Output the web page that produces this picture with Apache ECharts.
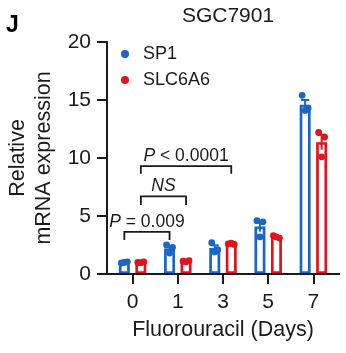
<!DOCTYPE html>
<html>
<head>
<meta charset="utf-8">
<script src="https://cdn.jsdelivr.net/npm/echarts@6/dist/echarts.min.js"></script>
<style>
  html, body { margin: 0; padding: 0; background: #fff; }
  #chart { width: 346px; height: 353px; }
</style>
</head>
<body>
<div id="chart"></div>
<script>
// Fluorouracil time course, SGC7901 cells
const days = ['0', '1', '3', '5', '7'];
const yTicks = [0, 5, 10, 15, 20];

// Replicate measurements (relative mRNA expression), one triplet per day
const sp1Reps = [
  [0.95, 1.05, 1.0],
  [2.5, 2.3, 1.8],
  [2.7, 2.1, 1.9],
  [4.6, 4.5, 3.2],
  [15.4, 14.3, 14.1]
];
const slc6a6Reps = [
  [1.0, 1.05, 0.98],
  [1.1, 1.15, 1.05],
  [2.6, 2.55, 2.65],
  [3.3, 3.1, 3.2],
  [12.2, 11.8, 10.1]
];

// Significance brackets: [day index, series index] endpoints, bracket height, label
const brackets = [
  { from: [0, 0], to: [1, 0], y: 3.63, drop: 0.7, italic: 'P', rest: ' = 0.009' },
  { from: [0, 1], to: [1, 1], y: 6.7, drop: 0.75, italic: 'NS', rest: '' },
  { from: [0, 1], to: [2, 1], y: 9.3, drop: 0.65, italic: 'P', rest: ' < 0.0001' }
];

const BLUE = '#1a66c4';
const RED = '#e3121b';
const INK = '#1a1a1a';
const FONT = '"Liberation Sans", Arial, Helvetica, sans-serif';
const BAR_W = 11;
const BAR_GAP = 0.5;
const HALF_SEP = (BAR_W * (1 + BAR_GAP)) / 2;
const JITTER = [-3, 3, 0];

const mean = a => a.reduce((s, v) => s + v, 0) / a.length;
const sem = a => {
  const m = mean(a);
  const sd = Math.sqrt(a.reduce((s, v) => s + (v - m) * (v - m), 0) / (a.length - 1));
  return sd / Math.sqrt(a.length);
};

const groups = [
  { name: 'SP1', reps: sp1Reps, color: BLUE, side: -1 },
  { name: 'SLC6A6', reps: slc6a6Reps, color: RED, side: 1 }
];

const chart = echarts.init(document.getElementById('chart'), null, { renderer: 'canvas' });

const series = [];
groups.forEach(g => {
  series.push({
    name: g.name + ' mean',
    type: 'bar',
    barWidth: BAR_W,
    barGap: (BAR_GAP * 100) + '%',
    data: g.reps.map(mean),
    itemStyle: { color: '#fff', borderColor: g.color, borderWidth: 2.7 },
    silent: true,
    z: 2
  });
});

groups.forEach(g => {
  series.push({
    name: g.name,
    type: 'custom',
    z: 5,
    data: g.reps.map((r, i) => [i, mean(r), sem(r)].concat(r)),
    renderItem: (params, api) => {
      const i = api.value(0);
      const m = api.value(1);
      const e = api.value(2);
      const base = api.coord([i, m]);
      const cx = base[0] + g.side * HALF_SEP;
      const yTop = api.coord([i, m + e])[1];
      const yBot = api.coord([i, m - e])[1];
      const children = [
        { type: 'line', shape: { x1: cx, y1: yTop, x2: cx, y2: yBot },
          style: { stroke: g.color, lineWidth: 2 } },
        { type: 'line', shape: { x1: cx - 4, y1: yTop, x2: cx + 4, y2: yTop },
          style: { stroke: g.color, lineWidth: 2 } }
      ];
      for (let k = 0; k < 3; k++) {
        const p = api.coord([i, api.value(3 + k)]);
        children.push({ type: 'circle', shape: { cx: cx + JITTER[k], cy: p[1], r: 3.4 },
          style: { fill: g.color } });
      }
      return { type: 'group', children };
    }
  });
});

// Bracket annotations
series.push({
  name: 'brackets',
  type: 'custom',
  z: 6,
  silent: true,
  data: brackets.map((b, i) => [i]),
  renderItem: (params, api) => {
    const b = brackets[params.dataIndex];
    const sideOf = s => groups[s].side * HALF_SEP;
    const x1 = api.coord([b.from[0], b.y])[0] + sideOf(b.from[1]);
    const x2 = api.coord([b.to[0], b.y])[0] + sideOf(b.to[1]);
    const yl = api.coord([0, b.y])[1];
    const yd = api.coord([0, b.y - b.drop])[1];
    return {
      type: 'group',
      children: [
        { type: 'polyline', shape: { points: [[x1, yd], [x1, yl], [x2, yl], [x2, yd]] },
          style: { stroke: INK, lineWidth: 1.8, fill: null } },
        { type: 'text', x: (x1 + x2) / 2, y: yl - 10,
          style: {
            text: '{i|' + b.italic + '}' + (b.rest ? '{n|' + b.rest + '}' : ''),
            align: 'center', verticalAlign: 'middle',
            rich: {
              i: { fontFamily: FONT, fontSize: 17.5, fontStyle: 'italic', fill: INK },
              n: { fontFamily: FONT, fontSize: 17.5, fill: INK }
            }
          } }
      ]
    };
  }
});

chart.setOption({
  animation: false,
  backgroundColor: '#fff',
  textStyle: { fontFamily: FONT },
  grid: { left: 110, right: 10, top: 42, bottom: 79, outerBoundsMode: 'none', containLabel: false },
  title: [
    { text: 'SGC7901', left: 223, top: 1, textAlign: 'center',
      textStyle: { fontFamily: FONT, fontSize: 21, fontWeight: 'normal', color: INK } },
    { text: 'J', left: 1, top: 9,
      textStyle: { fontFamily: FONT, fontSize: 23, fontWeight: 'bold', color: '#000' } }
  ],
  legend: {
    orient: 'vertical',
    left: 121, top: 45,
    padding: 0,
    icon: 'circle',
    itemWidth: 8, itemHeight: 8,
    itemGap: 8,
    selectedMode: false,
    textStyle: { fontFamily: FONT, fontSize: 18, color: INK, lineHeight: 18, padding: [0, 0, 0, 9] },
    data: [
      { name: 'SP1', itemStyle: { color: BLUE } },
      { name: 'SLC6A6', itemStyle: { color: RED } }
    ]
  },
  xAxis: {
    type: 'category',
    data: days,
    name: 'Fluorouracil (Days)',
    nameLocation: 'middle',
    nameGap: 45,
    nameTextStyle: { fontFamily: FONT, fontSize: 21.5, color: INK },
    axisLine: { show: false },
    axisTick: { show: true, alignWithLabel: true, length: 10, lineStyle: { color: INK, width: 2 } },
    axisLabel: { fontFamily: FONT, fontSize: 21, color: INK, margin: 18 }
  },
  yAxis: {
    type: 'value',
    min: yTicks[0], max: yTicks[yTicks.length - 1], interval: 5,
    offset: 3,
    name: 'Relative\nmRNA expression',
    nameLocation: 'middle',
    nameGap: 49,
    nameTextStyle: { fontFamily: FONT, fontSize: 21.5, color: INK, lineHeight: 26 },
    axisLine: { show: true, lineStyle: { color: INK, width: 2 } },
    axisTick: { show: true, length: 10, lineStyle: { color: INK, width: 2 } },
    axisLabel: { fontFamily: FONT, fontSize: 21, color: INK, margin: 16 },
    splitLine: { show: false }
  },
  series
});

// Baseline drawn from the y-axis across the plot
const y0 = chart.convertToPixel({ yAxisIndex: 0 }, 0);
const gridRect = chart.getModel().getComponent('grid').coordinateSystem.getRect();
chart.setOption({
  graphic: [{
    type: 'line', z: 10,
    shape: { x1: gridRect.x - 13, y1: y0, x2: gridRect.x + gridRect.width + 4, y2: y0 },
    style: { stroke: INK, lineWidth: 2 }
  }]
});
</script>
</body>
</html>
